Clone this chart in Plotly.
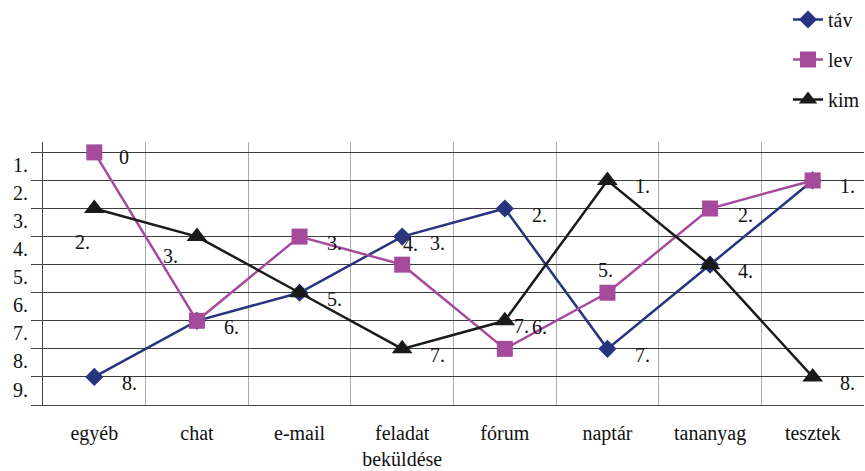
import plotly.graph_objects as go

categories = ["egyéb", "chat", "e-mail", "feladat<br>beküldése", "fórum", "naptár", "tananyag", "tesztek"]
tav = [8, 6, 5, 3, 2, 7, 4, 1]
lev = [0, 6, 3, 4, 7, 5, 2, 1]
kim = [2, 3, 5, 7, 6, 1, 4, 8]
y_tick_labels = ["1.", "2.", "3.", "4.", "5.", "6.", "7.", "8.", "9."]

# which data labels are visible (True/False per point)
tav_show = [True, False, False, True, True, True, False, False]
lev_show = [True, True, True, True, True, True, True, True]
kim_show = [True, True, True, True, True, True, True, True]

# label offsets in px (dx right, dy down) - style only
R = (35, 6)
tav_off = [R, R, R, R, R, R, R, R]
lev_off = [(30, 5), R, R, (8, -21), (17, -23), (-2, -23), R, R]
kim_off = [(-12, 33), (-26, 19), R, R, R, R, R, R]

FONT = "Liberation Serif"
FS = 20
BLUE = "#27347f"
PINK = "#a64a9c"
BLACK = "#1a1a1a"

def label_text(v):
    return "0" if v == 0 else f"{v}."

fig = go.Figure()
series = [
    ("táv", tav, BLUE, "diamond", 14, tav_show, tav_off),
    ("lev", lev, PINK, "square", 16, lev_show, lev_off),
    ("kim", kim, BLACK, "triangle-up", 18, kim_show, kim_off),
]
for i, (name, vals, col, sym, ms, show, off) in enumerate(series):
    fig.add_trace(go.Scatter(
        x=categories, y=vals, name=name, mode="lines+markers",
        line=dict(color=col, width=2.5),
        marker=dict(symbol=sym, size=ms, color=col),
        legendgroup=name,
    ))
    for c, v, s, (dx, dy) in zip(categories, vals, show, off):
        if s:
            fig.add_annotation(x=c, y=v, xref="x", yref="y", text=label_text(v),
                               showarrow=False, xshift=dx, yshift=-dy,
                               font=dict(family=FONT, size=FS, color="#111"))

# invisible helper on yaxis2 so tick labels render between gridlines
fig.add_trace(go.Scatter(x=categories, y=tav, yaxis="y2", mode="markers",
                         marker=dict(opacity=0), showlegend=False, hoverinfo="skip"))

fig.update_layout(
    width=865, height=471,
    margin=dict(l=43, r=1, t=142, b=60),
    paper_bgcolor="white", plot_bgcolor="white",
    font=dict(family=FONT, size=FS, color="#111"),
    showlegend=True,
    legend=dict(x=0.919, y=1.0, xref="paper", yref="container", xanchor="left", yanchor="top",
                font=dict(family=FONT, size=FS), tracegroupgap=11,
                bgcolor="rgba(0,0,0,0)"),
    xaxis=dict(type="category", range=[-0.5, 7.5], tickson="boundaries",
               showgrid=True, gridcolor="#a9adad", gridwidth=1,
               showline=True, linecolor="#444", linewidth=1,
               ticks="", ticklabelstandoff=10,
               tickfont=dict(family=FONT, size=FS, color="#111")),
    yaxis=dict(range=[9, -0.37], autorange=False, tickvals=list(range(10)),
               showticklabels=False, showgrid=True, gridcolor="#3c3c3c", gridwidth=1,
               showline=True, linecolor="#444", linewidth=1,
               ticks="outside", ticklen=11, tickcolor="#444", zeroline=False),
    yaxis2=dict(overlaying="y", side="left", anchor="x", range=[9, -0.37], autorange=False,
                tickvals=[i + 0.45 for i in range(9)], ticktext=y_tick_labels,
                showgrid=False, zeroline=False, showline=False, ticks="",
                ticklabelstandoff=14,
                tickfont=dict(family=FONT, size=FS, color="#111")),
)

fig.write_html("out.html", config={"displayModeBar": False},
               post_script="document.body.style.margin='0';document.body.style.overflow='hidden';")
